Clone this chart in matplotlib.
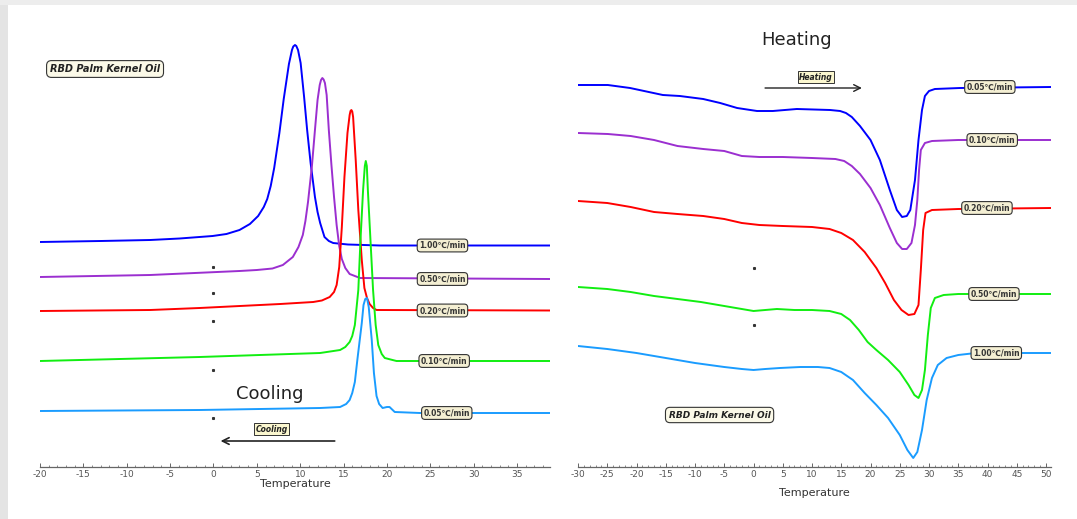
import matplotlib
matplotlib.use("Agg")
import matplotlib.pyplot as plt
from matplotlib.patches import Rectangle
from matplotlib.ticker import MultipleLocator

plt.rcParams['font.family'] = ['DejaVu Sans']
plt.rcParams['axes.unicode_minus'] = False

# ---- cooling (left panel), signal in arbitrary units (larger = lower on screen)
C100_T = [-20, -13, -7.3, -3.9, -0.1, 1.5, 3.0, 4.2, 5.15, 5.8, 6.2, 6.6, 7.0, 7.6, 8.1, 8.7, 9.05, 9.2, 9.4, 9.55, 9.75, 10.05, 10.45, 10.8, 11.2, 11.7, 12.0, 12.3, 12.8, 13.3, 13.8, 15.5, 19.2, 38.8]
C100_S = [242, 241, 240, 238.5, 236, 234, 230, 224, 216, 207, 199, 186, 168, 133, 99, 64, 50, 46.5, 45, 46, 50, 63, 97, 130, 163, 197, 212, 223, 237, 241, 243, 244.5, 245.5, 245.5]

C050_T = [-20, -7.3, 3.0, 5.0, 6.8, 8.0, 9.15, 9.8, 10.3, 10.6, 10.9, 11.35, 11.7, 12.0, 12.25, 12.4, 12.55, 12.7, 12.85, 13.05, 13.3, 13.6, 13.9, 14.2, 14.5, 14.8, 15.2, 15.7, 16.9, 38.8]
C050_S = [277, 275, 271, 270, 268.5, 265, 257, 247, 235, 221, 202, 166, 130, 100, 85, 80, 78, 79.5, 83, 95, 130, 165, 197, 225, 246, 259, 268, 274, 278, 279]

C020_T = [-20, -7.3, -1.6, 7.7, 11.5, 12.5, 13.4, 13.9, 14.2, 14.5, 14.8, 15.1, 15.45, 15.7, 15.8, 15.9, 16.0, 16.1, 16.4, 16.7, 17.1, 17.4, 17.7, 18.0, 18.4, 18.8, 38.8]
C020_S = [311, 310, 308, 304, 302, 300.5, 297, 292, 285, 267, 227, 177, 133, 115, 111, 110, 111.5, 117, 160, 210, 260, 288, 298, 304, 308, 310, 310.5]

C010_T = [-20, -1.6, 12.3, 14.6, 15.2, 15.7, 16.0, 16.3, 16.7, 16.95, 17.25, 17.45, 17.56, 17.68, 17.8, 18.1, 18.4, 18.7, 19.0, 19.4, 19.75, 21.1, 38.8]
C010_S = [361, 357, 353, 350, 347, 342, 336, 325, 290, 240, 190, 166, 161, 166, 190, 240, 290, 325, 345, 354, 358, 361, 361]

C005_T = [-20, -1.6, 12.3, 14.6, 15.3, 15.7, 16.0, 16.3, 16.6, 17.1, 17.3, 17.5, 17.7, 17.9, 18.25, 18.5, 18.8, 19.1, 19.5, 20.0, 20.3, 20.9, 23.8, 38.8]
C005_S = [411, 410, 408, 407, 404, 400, 393, 382, 359, 323, 305, 299, 298, 307, 340, 373, 396, 404, 408, 407, 407, 412, 413, 413]

COOL_RATES = ["1.00℃/min", "0.50℃/min", "0.20℃/min", "0.10℃/min", "0.05℃/min"]

# ---- heating (right panel)
H005_T = [-30, -24.9, -21.1, -15.5, -12.6, -8.6, -5.7, -2.8, 0.6, 3.3, 7.4, 13.1, 14.8, 15.8, 16.8, 18.2, 20.0, 21.6, 23.3, 24.5, 25.4, 26.2, 26.8, 27.6, 28.2, 28.8, 29.3, 30.0, 31.0, 35.3, 50.85]
H005_S = [85, 85, 88, 95, 96, 99, 103, 108, 111, 111, 109, 110, 111, 113, 117, 126, 140, 160, 190, 210, 217, 216, 210, 180, 140, 110, 96, 91, 89, 88, 87]

H010_T = [-30, -24.9, -21, -17, -13, -8.6, -5, -2, 1, 5, 10, 14, 15.5, 16.8, 18.2, 20, 21.6, 23.3, 24.5, 25.4, 26.2, 27.0, 27.6, 28.0, 28.3, 28.6, 29.3, 30.5, 35, 50.85]
H010_S = [133, 134, 136, 140, 146, 149, 151, 156, 157, 157, 158, 159, 161, 166, 174, 188, 205, 228, 243, 249, 249, 243, 225, 200, 170, 150, 143, 141, 140, 140]

H020_T = [-30, -25, -21, -17, -13, -8.6, -5, -2, 1, 5, 10, 13, 15, 17, 19, 21, 22.5, 24, 25.3, 26.5, 27.5, 28.2, 28.6, 29.0, 29.4, 30.5, 35, 50.85]
H020_S = [201, 203, 207, 212, 214, 216, 219, 223, 225, 226, 227, 229, 233, 240, 252, 268, 283, 300, 310, 315, 314, 305, 270, 230, 213, 210, 209, 208]

H050_T = [-30, -25, -21, -17, -13, -9, -5, -2, 0, 2, 4, 7, 10, 13, 15, 16.5, 18, 19.5, 21, 23, 25, 26.5, 27.5, 28.2, 28.8, 29.3, 29.8, 30.3, 31.0, 32.5, 35, 50.85]
H050_S = [287, 289, 292, 296, 299, 302, 306, 309, 311, 310, 309, 310, 310, 311, 314, 320, 330, 342, 350, 360, 372, 385, 395, 398, 390, 370, 335, 308, 298, 295, 294, 294]

H100_T = [-30, -25, -20, -15, -10, -5, -2, 0, 2, 4.5, 8, 11, 13, 15, 17, 19, 21, 23, 25, 26.3, 27.3, 28.0, 28.8, 29.6, 30.5, 31.5, 33, 35, 38, 50.85]
H100_S = [346, 349, 353, 358, 363, 367, 369, 370, 369, 368, 367, 367, 368, 372, 380, 393, 405, 418, 435, 450, 458, 452, 430, 400, 378, 365, 358, 355, 353, 353]

HEAT_RATES = ["0.05℃/min", "0.10℃/min", "0.20℃/min", "0.50℃/min", "1.00℃/min"]

# stray dots in the original export
COOL_DOTS_S = [267, 293, 321, 370, 418]
HEAT_DOTS_S = [268, 325]

COLORS = ['#0000ff', '#9b2fd0', '#ff0000', '#11ee11', '#1a9cff']

TAG = dict(boxstyle='round,pad=0.25,rounding_size=0.45', fc='#f4efd3', ec='#333333', lw=0.8)
TITLE_TAG = dict(boxstyle='round,pad=0.35,rounding_size=0.5', fc='#fbf9e8', ec='#333333', lw=0.8)
DIR_TAG = dict(boxstyle='square,pad=0.15', fc='#fbf7cf', ec='#333333', lw=0.7)


def style(ax, lo, hi):
  ax.set_xlim(lo, hi)
  ax.set_ylim(467, 20)
  for s in ['left', 'right', 'top']:
    ax.spines[s].set_visible(False)
  ax.spines['bottom'].set_color('#666666')
  ax.spines['bottom'].set_linewidth(0.9)
  ax.set_yticks([])
  ax.xaxis.set_major_locator(MultipleLocator(5))
  ax.xaxis.set_minor_locator(MultipleLocator(1))
  ax.tick_params(axis='x', which='major', direction='in', length=3, width=0.7, color='#666666', labelsize=6.5, labelcolor='#555555', pad=2)
  ax.tick_params(axis='x', which='minor', direction='in', length=1.5, width=0.6, color='#777777')
  ax.patch.set_alpha(0)


def tag(ax, x, y, s, size=5.5):
  ax.text(x, y, s, ha='center', va='center', fontsize=size, fontweight='bold', color='#333333', bbox=TAG, zorder=5)


def curves(ax, data, colors):
  for (T, S), c in zip(data, colors):
    ax.plot(T, S, color=c, lw=1.4, solid_joinstyle='round', solid_capstyle='round')


fig = plt.figure(figsize=(10.77, 5.19), dpi=100)
fig.patches.append(Rectangle((0, 0), 0.0075, 1, transform=fig.transFigure, fc='#e4e4e4', ec='none'))
fig.patches.append(Rectangle((0, 0.99), 1, 0.01, transform=fig.transFigure, fc='#ededed', ec='none'))

# ---- left: cooling
ax = fig.add_axes([40 / 1077, 52 / 519, 510 / 1077, 447 / 519])
style(ax, -20, 38.8)
cool = [(C100_T, C100_S), (C050_T, C050_S), (C020_T, C020_S), (C010_T, C010_S), (C005_T, C005_S)]
curves(ax, cool, COLORS)
for (T, S), lab, x in zip(cool, COOL_RATES, [26.4, 26.4, 26.4, 26.6, 26.9]):
  tag(ax, x, S[-1], lab)
ax.plot([0] * len(COOL_DOTS_S), COOL_DOTS_S, 's', ms=1.2, color='#333333')

ax.text(-12.5, 69, "RBD Palm Kernel Oil", ha='center', va='center', fontsize=7, fontweight='bold', style='italic', color='#222222', bbox=TITLE_TAG)
ax.text(6.5, 394, "Cooling", ha='center', va='center', fontsize=13, color='#222222')
ax.text(6.7, 429, "Cooling", ha='center', va='center', fontsize=5.5, fontweight='bold', style='italic', color='#222222', bbox=DIR_TAG)
ax.annotate("", xy=(0.5, 441), xytext=(14.3, 441), arrowprops=dict(arrowstyle='->', lw=1.2, color='#222222', mutation_scale=12))
ax.set_xlabel("Temperature", fontsize=8, color='#333333', labelpad=0)

# ---- right: heating
ax = fig.add_axes([578 / 1077, 52 / 519, 473 / 1077, 447 / 519])
style(ax, -30, 50.85)
heat = [(H005_T, H005_S), (H010_T, H010_S), (H020_T, H020_S), (H050_T, H050_S), (H100_T, H100_S)]
curves(ax, heat, COLORS)
for (T, S), lab, x in zip(heat, HEAT_RATES, [40.4, 40.8, 39.9, 41.1, 41.5]):
  tag(ax, x, S[-1], lab)
ax.plot([0] * len(HEAT_DOTS_S), HEAT_DOTS_S, 's', ms=1.2, color='#333333')

ax.text(-5.8, 415, "RBD Palm Kernel Oil", ha='center', va='center', fontsize=6.5, fontweight='bold', style='italic', color='#222222', bbox=TITLE_TAG)
ax.text(7.3, 40, "Heating", ha='center', va='center', fontsize=13, color='#222222')
ax.text(10.7, 77, "Heating", ha='center', va='center', fontsize=5.5, fontweight='bold', style='italic', color='#222222', bbox=DIR_TAG)
ax.annotate("", xy=(19.0, 88), xytext=(1.5, 88), arrowprops=dict(arrowstyle='->', lw=1.0, color='#222222', mutation_scale=12))
ax.set_xlabel("Temperature", fontsize=8, color='#333333', labelpad=7)

fig.savefig("out.png", dpi=100)
